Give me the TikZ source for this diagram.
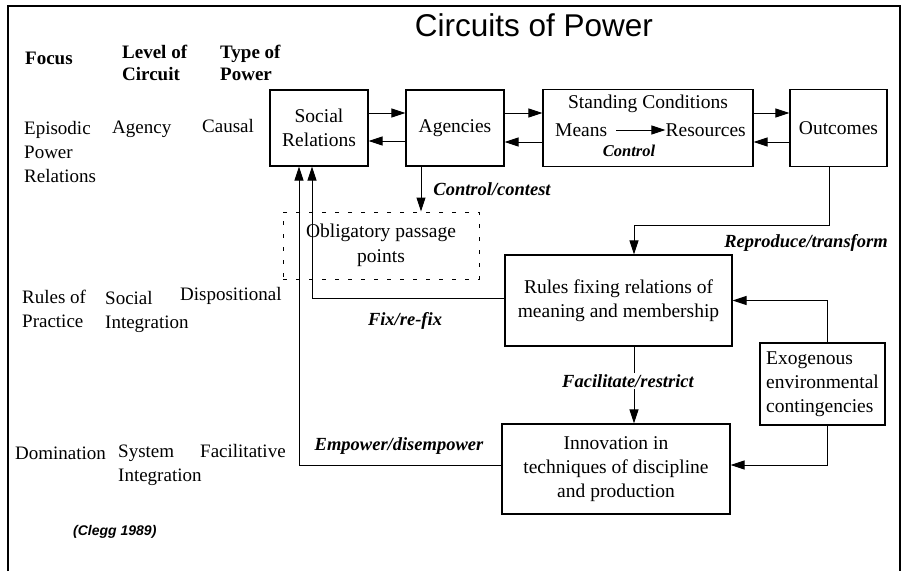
\documentclass[tikz,border=0pt]{standalone}
\usepackage{fontspec}
\setmainfont{Liberation Serif}
\newfontfamily\headfont{Liberation Sans}
\usepackage{tikz}
\usetikzlibrary{arrows.meta, positioning}
\tikzstyle{arrow} = [line width=1pt,-{Triangle[length=14pt,width=9pt]}]
\tikzstyle{process} = [rectangle, draw=black, line width=1.2pt, align=center, inner sep=2pt, font=\fontsize{19.5}{24}\selectfont]
\tikzstyle{passage} = [rectangle, draw=black, line width=1pt, dash pattern=on 4pt off 9pt, align=center, font=\fontsize{19.5}{25}\selectfont]
\tikzstyle{rowtext} = [anchor=west, align=left, inner sep=0pt, font=\fontsize{19}{24}\selectfont]
\tikzstyle{headtext} = [anchor=west, align=left, inner sep=0pt, font=\fontsize{19}{22}\selectfont\bfseries]
\tikzstyle{flowtext} = [inner sep=1pt, font=\fontsize{18.5}{22}\selectfont\bfseries\itshape]
\tikzset{
	frame/.style = {line width=1.6pt},
	boxtext/.style = {inner sep=0pt, font=\fontsize{19.5}{24}\selectfont}
}

\begin{document}
\begin{tikzpicture}[x=1pt, y=-1pt]
\useasboundingbox (0,0) rectangle (902,571);
\draw [frame] (8,571) -- (8,6) -- (900,6) -- (900,571);
%----------------------------------------------------------------------------
% Title and column heads
\node (title) at (534,25) [font=\headfont\fontsize{31.5}{36}\selectfont] {Circuits of Power};
\node (headFocus) at (25,58) [headtext] {Focus};
\node (headLevel) at (122,63) [headtext] {Level of\\Circuit};
\node (headType) at (220,63) [headtext] {Type of\\Power};

%----------------------------------------------------------------------------
% Row texts
\node (focusEpisodic) at (24,152) [rowtext] {Episodic\\Power\\Relations};
\node (levelAgency) at (112,129) [rowtext] {Agency};
\node (typeCausal) at (202,126) [rowtext] {Causal};

\node (focusRules) at (22,309) [rowtext] {Rules of\\Practice};
\node (levelSocial) at (105,312) [rowtext] {Social\\Integration};
\node (typeDisp) at (180,296) [rowtext] {Dispositional};

\node (focusDomination) at (15,453) [rowtext] {Domination};
\node (levelSystem) at (118,465) [rowtext] {System\\Integration};
\node (typeFacil) at (200,451) [rowtext] {Facilitative};

\node (source) at (73,532) [anchor=west, inner sep=0pt, font=\headfont\fontsize{14}{16}\selectfont\bfseries\itshape] {(Clegg 1989)};

%----------------------------------------------------------------------------
% Placement of flowchart nodes
\node (socialRelations) at (319,128) [process, minimum width=98pt, minimum height=76pt] {Social\\Relations};
\node (agencies) at (455,128) [process, minimum width=98pt, minimum height=76pt] {Agencies};
\node (standing) at (648,128) [process, minimum width=210pt, minimum height=77pt] {};
\node (outcomes) at (838.5,128) [process, minimum width=97pt, minimum height=77pt] {Outcomes};

\node (standingTitle) at (648,104) [boxtext] {Standing Conditions};
\node (means) at (555,130) [boxtext, anchor=west] {Means};
\node (resources) at (746,130) [boxtext, anchor=east] {Resources};
\node (control) at (629,151) [inner sep=0pt, font=\fontsize{16.5}{20}\selectfont\bfseries\itshape] {Control};

\node (passage) at (381,245.5) [passage, minimum width=196pt, minimum height=67pt] {Obligatory passage\\points};
\node (rules) at (618.5,300.5) [process, minimum width=227pt, minimum height=91pt] {Rules fixing relations of\\meaning and membership};
\node (innovation) at (616,469) [process, minimum width=228pt, minimum height=90pt] {Innovation in\\techniques of discipline\\and production};
\node (exogenous) at (822.5,384) [process, minimum width=125pt, minimum height=82pt, align=left] {Exogenous\\environmental\\contingencies};

%----------------------------------------------------------------------------
% Lines
\draw [arrow] ([yshift=15pt]socialRelations.east) -- ([yshift=15pt]agencies.west);
\draw [arrow] ([yshift=-13pt]agencies.west) -- ([yshift=-13pt]socialRelations.east);
\draw [arrow] ([yshift=15pt]agencies.east) -- ([yshift=15pt]standing.west);
\draw [arrow] ([yshift=-14pt]standing.west) -- ([yshift=-14pt]agencies.east);
\draw [arrow] ([yshift=15pt]standing.east) -- ([yshift=15pt]outcomes.west);
\draw [arrow] ([yshift=-14pt]outcomes.west) -- ([yshift=-14pt]standing.east);
\draw [arrow] ([xshift=9pt]means.east) -- (resources.west);

\draw [arrow] ([xshift=-34pt]agencies.south) -- ([xshift=-34pt]agencies.south |- passage.north);
\draw [arrow] ([xshift=-9.5pt]outcomes.south) -- ++(0,58) -| ([xshift=15.5pt]rules.north);
\draw [arrow] ([yshift=2.5pt]rules.west) -| ([xshift=-7pt]socialRelations.south);
\draw [arrow] ([xshift=15.5pt]rules.south) -- ([xshift=15.5pt]rules.south |- innovation.north);
\draw [arrow] ([xshift=4.5pt]exogenous.north) |- (rules.east);
\draw [arrow] ([xshift=4.5pt]exogenous.south) |- ([yshift=4pt]innovation.east);
\draw [arrow] ([yshift=4pt]innovation.west) -| ([xshift=-20pt]socialRelations.south);

%----------------------------------------------------------------------------
% Connector labels
\node (ctrlContest) at (492,189) [flowtext] {Control/contest};
\node (reproduce) at (806,243) [flowtext] {Reproduce/transform};
\node (fixRefix) at (405,321) [flowtext] {Fix/re-fix};
\node (facilitate) at (628,381) [flowtext, fill=white] {Facilitate/restrict};
\node (empower) at (399,446) [flowtext] {Empower/disempower};

\end{tikzpicture}
\end{document}
